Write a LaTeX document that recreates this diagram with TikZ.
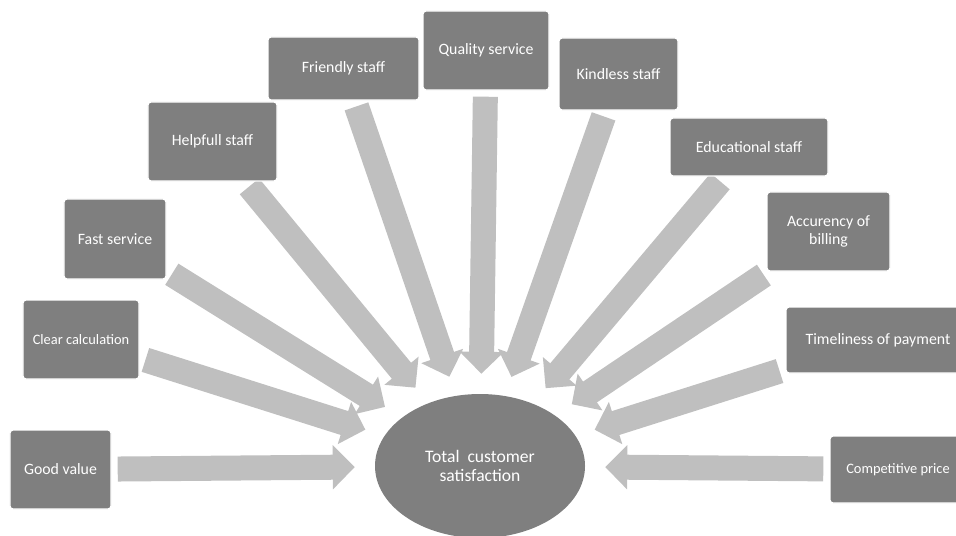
\documentclass[tikz,border=0pt]{standalone}
\usepackage{fontspec}
\setmainfont{Carlito}
\usetikzlibrary{shapes}
\usetikzlibrary{arrows.meta}
\usetikzlibrary{backgrounds}
\definecolor{boxgray}{HTML}{7F7F7F}
\definecolor{arrowgray}{HTML}{BFBFBF}
\tikzset{
	factor/.style = {
		align=center,
		inner sep=0pt,
		text centered,
		rectangle,
		rounded corners=2.5pt,
		fill=boxgray,
		draw=white,
		line width=1.2pt,
		text=white,
		font=\fontsize{13.5}{15.5}\selectfont
	},
	factor_small/.style = {
		factor,
		font=\fontsize{12.3}{14}\selectfont
	},
	goal/.style = {
		ellipse,
		align=center,
		inner sep=0pt,
		fill=boxgray,
		text=white,
		minimum width=6.3cm,
		minimum height=4.32cm,
		font=\fontsize{15}{16.5}\selectfont
	},
	block_arrow/.style = {
		draw=arrowgray,
		line width=0.75cm,
		-{Triangle[width=1.29cm,length=0.66cm]},
		shorten <=0.18cm,
		shorten >=0.6cm
	}
}

\begin{document}
\begin{tikzpicture}[x=0.03cm, y=-0.03cm]
\clip (0,0) rectangle (956,536);
\node [goal] (tcs) at (480,466) {Total~~customer\\satisfaction};
% left side
\node [factor, minimum width=3.03cm, minimum height=2.37cm] (gv) at (60.5,469.5) {Good value};
\node [factor_small, minimum width=3.48cm, minimum height=2.37cm] (cc) at (81,339.5) {Clear calculation};
\node [factor, minimum width=3.06cm, minimum height=2.40cm] (fs) at (115,239) {Fast service};
\node [factor, minimum width=3.87cm, minimum height=2.37cm] (hs) at (212.5,141.5) {Helpfull staff};
\node [factor, minimum width=4.53cm, minimum height=1.89cm] (frs) at (343.5,68.5) {Friendly staff};
% top
\node [factor, minimum width=3.78cm, minimum height=2.37cm] (qs) at (486,50.5) {Quality service};
% right side
\node [factor, minimum width=3.57cm, minimum height=2.16cm] (ks) at (618.5,74) {Kindless staff};
\node [factor, minimum width=4.74cm, minimum height=1.74cm] (es) at (749,147) {Educational staff};
\node [factor, minimum width=3.69cm, minimum height=2.37cm] (ab) at (828.5,231.5) {Accurency of\\billing};
\node [factor, minimum width=5.52cm, minimum height=1.98cm] (tp) at (878,340) {Timeliness of payment};
\node [factor_small, minimum width=4.08cm, minimum height=2.01cm] (cp) at (898,469.5) {Competitive price};
% arrows into the goal
\begin{scope}[on background layer]
\foreach \f in {gv,cc,fs,hs,frs,qs,ks,es,ab,tp,cp}
	\draw [block_arrow] (\f) -- (tcs);
\end{scope}
\end{tikzpicture}
\end{document}
